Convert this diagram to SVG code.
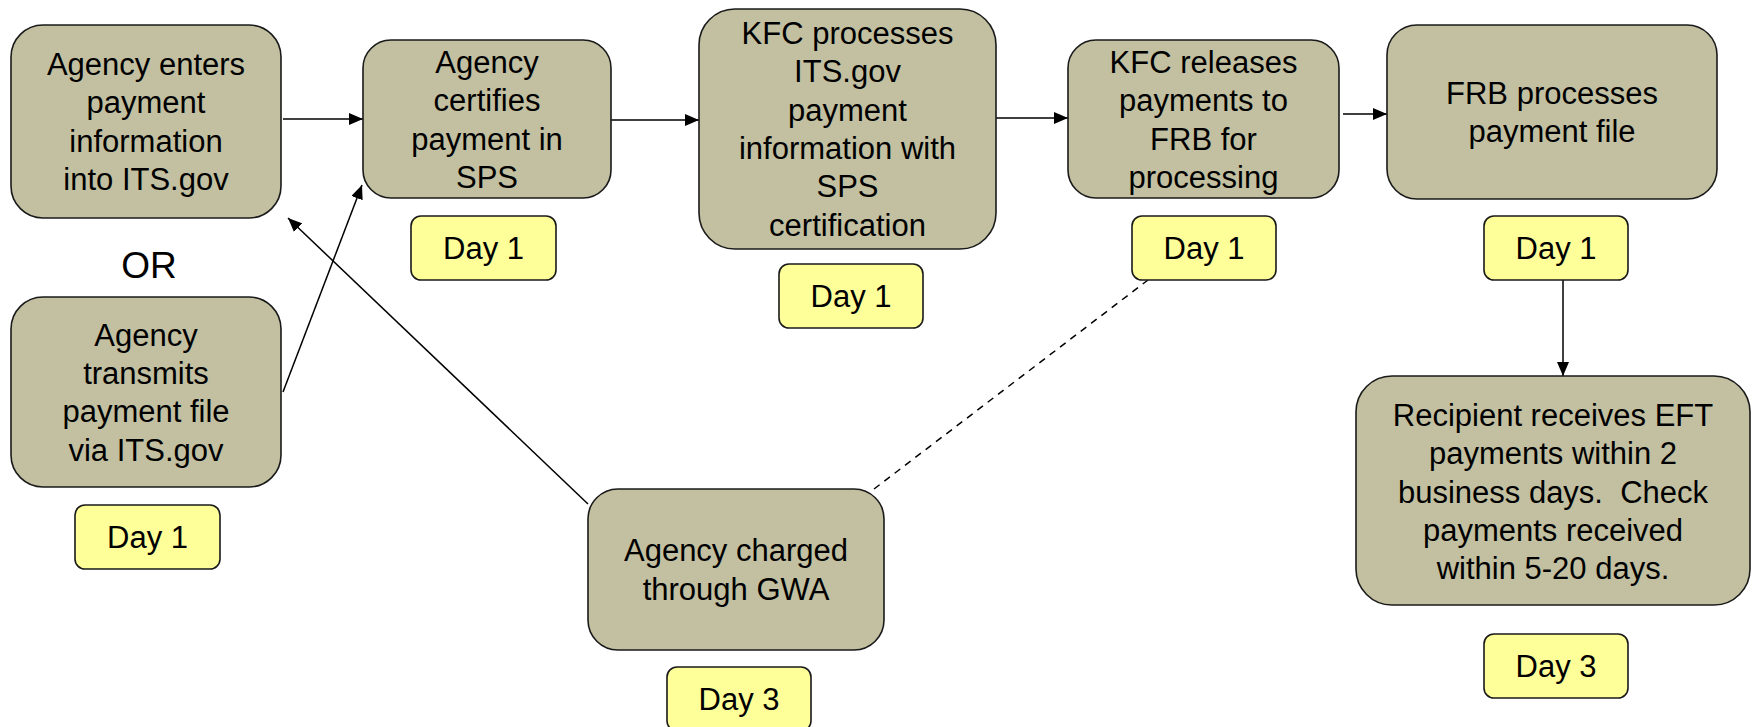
<svg xmlns="http://www.w3.org/2000/svg" width="1757" height="727" viewBox="0 0 1757 727">
<style>
.node{fill:#C2C0A1;stroke:#1a1a1a;stroke-width:1.6}
.day{fill:#FFFF99;stroke:#1a1a1a;stroke-width:1.6}
text{font-family:"Liberation Sans",Arial,sans-serif;font-size:31px;fill:#000;text-anchor:middle}
.c{stroke:#000;stroke-width:1.5;fill:none}
.dash{stroke-dasharray:7,6}
</style>
<defs>
<marker id="ah" markerWidth="14" markerHeight="12" refX="14" refY="6" orient="auto" markerUnits="userSpaceOnUse">
<path d="M0,0 L14,6 L0,12 Z" fill="#000"/>
</marker>
</defs>
<rect width="1757" height="727" fill="#fff"/>
<g id="connectors">
<line class="c" x1="283" y1="119" x2="363" y2="119" marker-end="url(#ah)"/>
<line class="c" x1="603" y1="120" x2="699" y2="120" marker-end="url(#ah)"/>
<line class="c" x1="986" y1="118" x2="1068" y2="118" marker-end="url(#ah)"/>
<line class="c" x1="1343" y1="114" x2="1387" y2="114" marker-end="url(#ah)"/>
<line class="c" x1="1563" y1="280" x2="1563" y2="376" marker-end="url(#ah)"/>
<line class="c" x1="283" y1="392" x2="362" y2="185" marker-end="url(#ah)"/>
<line class="c" x1="588" y1="504" x2="288" y2="218" marker-end="url(#ah)"/>
<line class="c dash" x1="874" y1="489" x2="1148" y2="280"/>
</g>
<g id="n1">
<rect class="node" x="11" y="25" width="270" height="193" rx="32"/>
<text x="146" y="75">Agency enters</text>
<text x="146" y="113">payment</text>
<text x="146" y="152">information</text>
<text x="146" y="190">into ITS.gov</text>
</g>
<text id="or" x="149" y="278" style="font-size:37px">OR</text>
<g id="n7">
<rect class="node" x="11" y="297" width="270" height="190" rx="32"/>
<text x="146" y="346">Agency</text>
<text x="146" y="384">transmits</text>
<text x="146" y="422">payment file</text>
<text x="146" y="461">via ITS.gov</text>
</g>
<g id="d7">
<rect class="day" x="75" y="505" width="145" height="64" rx="10"/>
<text x="147.5" y="548">Day 1</text>
</g>
<g id="n2">
<rect class="node" x="363" y="40" width="248" height="158" rx="28"/>
<text x="487" y="73">Agency</text>
<text x="487" y="111">certifies</text>
<text x="487" y="150">payment in</text>
<text x="487" y="188">SPS</text>
</g>
<g id="d2">
<rect class="day" x="411" y="216" width="145" height="64" rx="10"/>
<text x="483.5" y="259">Day 1</text>
</g>
<g id="n3">
<rect class="node" x="699" y="9" width="297" height="240" rx="36"/>
<text x="847.5" y="44">KFC processes</text>
<text x="847.5" y="82">ITS.gov</text>
<text x="847.5" y="121">payment</text>
<text x="847.5" y="159">information with</text>
<text x="847.5" y="197">SPS</text>
<text x="847.5" y="236">certification</text>
</g>
<g id="d3">
<rect class="day" x="779" y="264" width="144" height="64" rx="10"/>
<text x="851" y="307">Day 1</text>
</g>
<g id="n4">
<rect class="node" x="1068" y="40" width="271" height="158" rx="28"/>
<text x="1203.5" y="73">KFC releases</text>
<text x="1203.5" y="111">payments to</text>
<text x="1203.5" y="150">FRB for</text>
<text x="1203.5" y="188">processing</text>
</g>
<g id="d4">
<rect class="day" x="1132" y="216" width="144" height="64" rx="10"/>
<text x="1204" y="259">Day 1</text>
</g>
<g id="n5">
<rect class="node" x="1387" y="25" width="330" height="174" rx="30"/>
<text x="1552" y="104">FRB processes</text>
<text x="1552" y="142">payment file</text>
</g>
<g id="d5">
<rect class="day" x="1484" y="216" width="144" height="64" rx="10"/>
<text x="1556" y="259">Day 1</text>
</g>
<g id="n6">
<rect class="node" x="1356" y="376" width="394" height="229" rx="36"/>
<text x="1553" y="426">Recipient receives EFT</text>
<text x="1553" y="464">payments within 2</text>
<text x="1553" y="503" xml:space="preserve">business days.  Check</text>
<text x="1553" y="541">payments received</text>
<text x="1553" y="579">within 5-20 days.</text>
</g>
<g id="d6">
<rect class="day" x="1484" y="634" width="144" height="64" rx="10"/>
<text x="1556" y="677">Day 3</text>
</g>
<g id="n8">
<rect class="node" x="588" y="489" width="296" height="161" rx="30"/>
<text x="736" y="561">Agency charged</text>
<text x="736" y="600">through GWA</text>
</g>
<g id="d8">
<rect class="day" x="667" y="667" width="144" height="64" rx="10"/>
<text x="739" y="710">Day 3</text>
</g>
</svg>
